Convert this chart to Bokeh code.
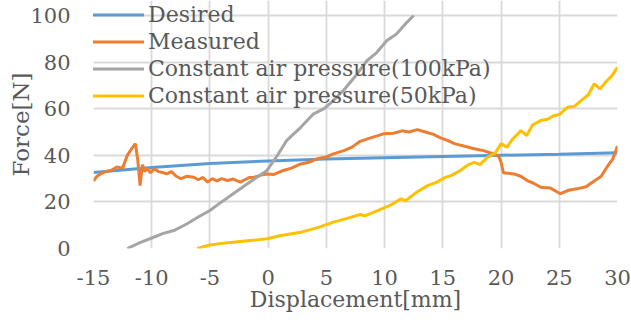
from bokeh.plotting import figure
from bokeh.models import Range1d, FixedTicker, Legend, LegendItem
from bokeh.embed import file_html
from bokeh.resources import INLINE

x_ticks = [-15, -10, -5, 0, 5, 10, 15, 20, 25, 30]
y_ticks = [0, 20, 40, 60, 80, 100]

desired_x = [-15, -10, -5, 0, 5, 10, 15, 20, 25, 30]
desired_y = [32.6, 34.8, 36.5, 37.6, 38.4, 39.0, 39.5, 40.0, 40.5, 41.1]

measured_x = [-15, -14.7, -14.4, -14, -13.5, -13, -12.5, -12.1, -11.7, -11.4, -11.2, -11.0, -10.8,
              -10.6, -10.4, -10.1, -9.8, -9.4, -9, -8.7, -8.3, -7.9, -7.5, -7, -6.4, -6, -5.6,
              -5.2, -4.8, -4.4, -4, -3.5, -3, -2.4, -2, -1.6, -1.2, -0.6, -0.1, 0.5, 1.3, 2, 2.8,
              3.5, 4.2, 5, 5.6, 6.5, 7.2, 7.9, 8.8, 9.9, 10.8, 11.5, 12.1, 12.8, 13.5, 14.2, 14.8,
              15.4, 16, 16.8, 17.7, 18.5, 19.1, 19.4, 19.8, 20.0, 20.2, 21.1, 21.7, 22.3, 22.8,
              23.4, 24.2, 25.1, 25.8, 26.5, 27.3, 28, 28.6, 29.1, 29.6, 30]
measured_y = [29, 31, 32, 33, 33.5, 35, 34.5, 40, 43, 45, 38, 27, 36, 33, 34.5, 32.5, 34.2, 33,
              32.5, 32, 33, 31, 30, 31, 30.6, 29.5, 30.5, 28.5, 30, 29, 30, 29.2, 29.8, 28.5, 29.5,
              30.5, 30.6, 31.5, 32, 31.8, 33.5, 34.5, 36.3, 37, 38.5, 39.3, 40.6, 42, 43.5, 46,
              47.5, 49.2, 49.5, 50.5, 50, 51, 50, 49, 47.5, 46.4, 45, 44, 42.8, 42, 41, 40.6,
              39.5, 37, 32.5, 32, 31, 29, 28, 26.3, 26, 23.5, 25, 25.6, 26.5, 29, 31, 35, 38.5, 44]

p100_x = [-12.1, -11, -10, -9, -8.1, -7, -6, -5, -4, -3, -2, -1, -0.1, 0.8, 1.6, 2.8, 3.9, 4.8,
          5.6, 6.5, 7.5, 8.5, 9.3, 10.2, 11, 11.8, 12.5]
p100_y = [0, 2.5, 4.5, 6.5, 7.7, 10.5, 13.5, 16.3, 20, 23.5, 27, 30.5, 33.5, 40, 46.4, 52, 57.8,
          60, 63.5, 68, 74, 80.7, 84, 89.3, 92, 96.5, 100]

p50_x = [-6.1, -5, -4, -3, -2, -1, -0.1, 1, 2, 2.8, 3.7, 4.5, 5.6, 6.7, 7.9, 8.3, 9.5, 10.5, 11.4,
         11.8, 12.7, 13.7, 14.5, 15.2, 15.7, 16.5, 17.2, 17.7, 18.2, 18.8, 19.5, 20, 20.5, 21,
         21.4, 21.7, 22.2, 22.7, 23.4, 24, 24.5, 25.0, 25.7, 26.3, 27, 27.5, 28, 28.5, 29, 29.5, 30]
p50_y = [0, 1.5, 2.2, 2.7, 3.2, 3.7, 4.2, 5.5, 6.3, 7, 8.2, 9.4, 11.3, 12.8, 14.6, 14, 16.5, 18.6,
         21.3, 20.5, 24, 27, 28.5, 30.5, 31.3, 33.5, 36, 37, 36, 39, 41, 45, 43.5, 47, 49, 50.6,
         48.5, 53, 54.9, 55.5, 57, 57.5, 60.6, 61, 64, 66, 70.7, 68.5, 71.5, 74, 77.8]

names = ["Desired", "Measured", "Constant air pressure(100kPa)", "Constant air pressure(50kPa)"]
colors = ["#5b9bd5", "#ed7d31", "#a5a5a5", "#ffc000"]

FONT = "DejaVu Serif"
TXT = "#595959"
GRID = "#d9d9d9"

# frame extends above the 100 gridline so the legend (which overlaps the top) is not clipped
p = figure(width=631, height=322, output_backend="svg", toolbar_location=None,
           x_range=Range1d(-15, 30), y_range=Range1d(0, 106.44),
           min_border_left=93, min_border_right=14, min_border_top=0, min_border_bottom=74)
p.outline_line_color = None

series = [(desired_x, desired_y), (measured_x, measured_y), (p100_x, p100_y), (p50_x, p50_y)]
items = []
for (xs, ys), n, c in zip(series, names, colors):
    r = p.line(xs, ys, line_color=c, line_width=3)
    items.append(LegendItem(label=n, renderers=[r]))

p.xaxis.ticker = FixedTicker(ticks=x_ticks)
p.yaxis.ticker = FixedTicker(ticks=y_ticks)
p.xaxis.major_label_overrides = {t: str(t) for t in x_ticks}
for ax in (p.xaxis[0], p.yaxis[0]):
    ax.axis_line_color = None
    ax.major_tick_line_color = None
    ax.minor_tick_line_color = None
    ax.major_tick_out = 0
    ax.major_tick_in = 0
    ax.minor_tick_out = 0
    ax.minor_tick_in = 0
    ax.major_label_text_font = FONT
    ax.major_label_text_font_size = "21px"
    ax.major_label_text_color = TXT
    ax.axis_label_text_font = FONT
    ax.axis_label_text_color = TXT
    ax.axis_label_text_font_style = "normal"
p.xaxis.axis_label = "Displacement[mm]"
p.yaxis.axis_label = "Force[N]"
p.xaxis.axis_label_text_font_size = "22px"
p.yaxis.axis_label_text_font_size = "23px"
p.xaxis.major_label_standoff = 21
p.yaxis.major_label_standoff = 23
p.xaxis.axis_label_standoff = -1
p.yaxis.axis_label_standoff = -7

p.xgrid.ticker = FixedTicker(ticks=x_ticks)
p.ygrid.ticker = FixedTicker(ticks=y_ticks)
p.grid.grid_line_color = GRID
p.grid.grid_line_width = 1.8

legend = Legend(items=items, location=(-3, 139))
legend.background_fill_alpha = 0
legend.border_line_alpha = 0
legend.padding = 0
legend.margin = 0
legend.spacing = 0
legend.glyph_width = 54
legend.glyph_height = 27
legend.label_height = 27
legend.label_standoff = 4
legend.label_text_font = FONT
legend.label_text_font_size = "22px"
legend.label_text_color = TXT
p.add_layout(legend, "center")

open("out.html", "w").write(file_html(p, INLINE))
